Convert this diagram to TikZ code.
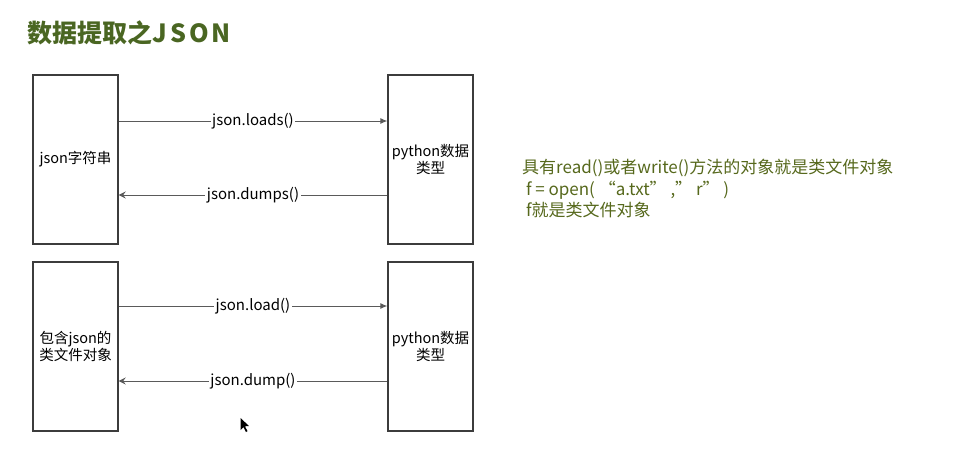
\documentclass[tikz,border=0pt]{standalone}
\usepackage{fontspec}
\setmainfont{Noto Sans CJK SC}
\usetikzlibrary{arrows.meta}

\definecolor{titlegreen}{RGB}{74,102,34}
\definecolor{notegreen}{RGB}{86,104,28}
\definecolor{boxgray}{RGB}{60,60,60}
\definecolor{linegray}{RGB}{90,90,90}

\tikzset{
    databox/.style={draw=boxgray, line width=1.4pt, minimum width=85pt,
        minimum height=169pt, align=center, inner sep=0pt,
        font=\fontsize{14.5}{17.5}\selectfont},
    funclabel/.style={fill=white, inner sep=1.5pt, font=\fontsize{15}{17}\selectfont},
    conv/.style={draw=linegray, line width=0.9pt}
}

\begin{document}
\begin{tikzpicture}[x=1pt, y=-1pt]
    \useasboundingbox (0,0) rectangle (966,467);

    % Title
    \node[anchor=west, text=titlegreen, font=\fontsize{25}{28}\selectfont\bfseries]
        (title) at (24,33) {数据提取之{\addfontfeatures{LetterSpace=12}JSON}};

    % Boxes, top pair
    \node[databox] (jsonstr) at (75.5,159.5) {json字符串};
    \node[databox] (pytop) at (430.5,159.5) {python数据\\类型};

    % Boxes, bottom pair
    \node[databox] (fileobj) at (75.5,346.5) {包含json的\\类文件对象};
    \node[databox] (pybot) at (430.5,346.5) {python数据\\类型};

    % Conversions
    \draw[conv, -{Latex[length=7pt, width=6pt]}]
    (jsonstr.east |- 0,121) -- node[funclabel] (loads) {json.loads()} (pytop.west |- 0,121);
    \draw[conv, -{Stealth[length=7pt, width=7pt, inset=2.5pt]}]
    (pytop.west |- 0,195) -- node[funclabel] (dumps) {json.dumps()} (jsonstr.east |- 0,195);

    \draw[conv, -{Latex[length=7pt, width=6pt]}]
    (fileobj.east |- 0,306) -- node[funclabel] (load) {json.load()} (pybot.west |- 0,306);
    \draw[conv, -{Stealth[length=7pt, width=7pt, inset=2.5pt]}]
    (pybot.west |- 0,381) -- node[funclabel] (dump) {json.dump()} (fileobj.east |- 0,381);

    % Note
    \node[anchor=north west, align=left, text=notegreen, inner sep=0pt,
        font=\fontsize{17}{21.5}\selectfont] (note) at (522,159)
        {具有read()或者write()方法的对象就是类文件对象\\
        \ f = open( “a.txt” ,” r” )\\
        \ f就是类文件对象};

    % Mouse pointer
    \fill[black] (240.5,418) -- (240.5,430) -- (243.5,427) -- (246,432) -- (247.5,431.2)
        -- (245,426.3) -- (249,426) -- cycle;
\end{tikzpicture}
\end{document}
